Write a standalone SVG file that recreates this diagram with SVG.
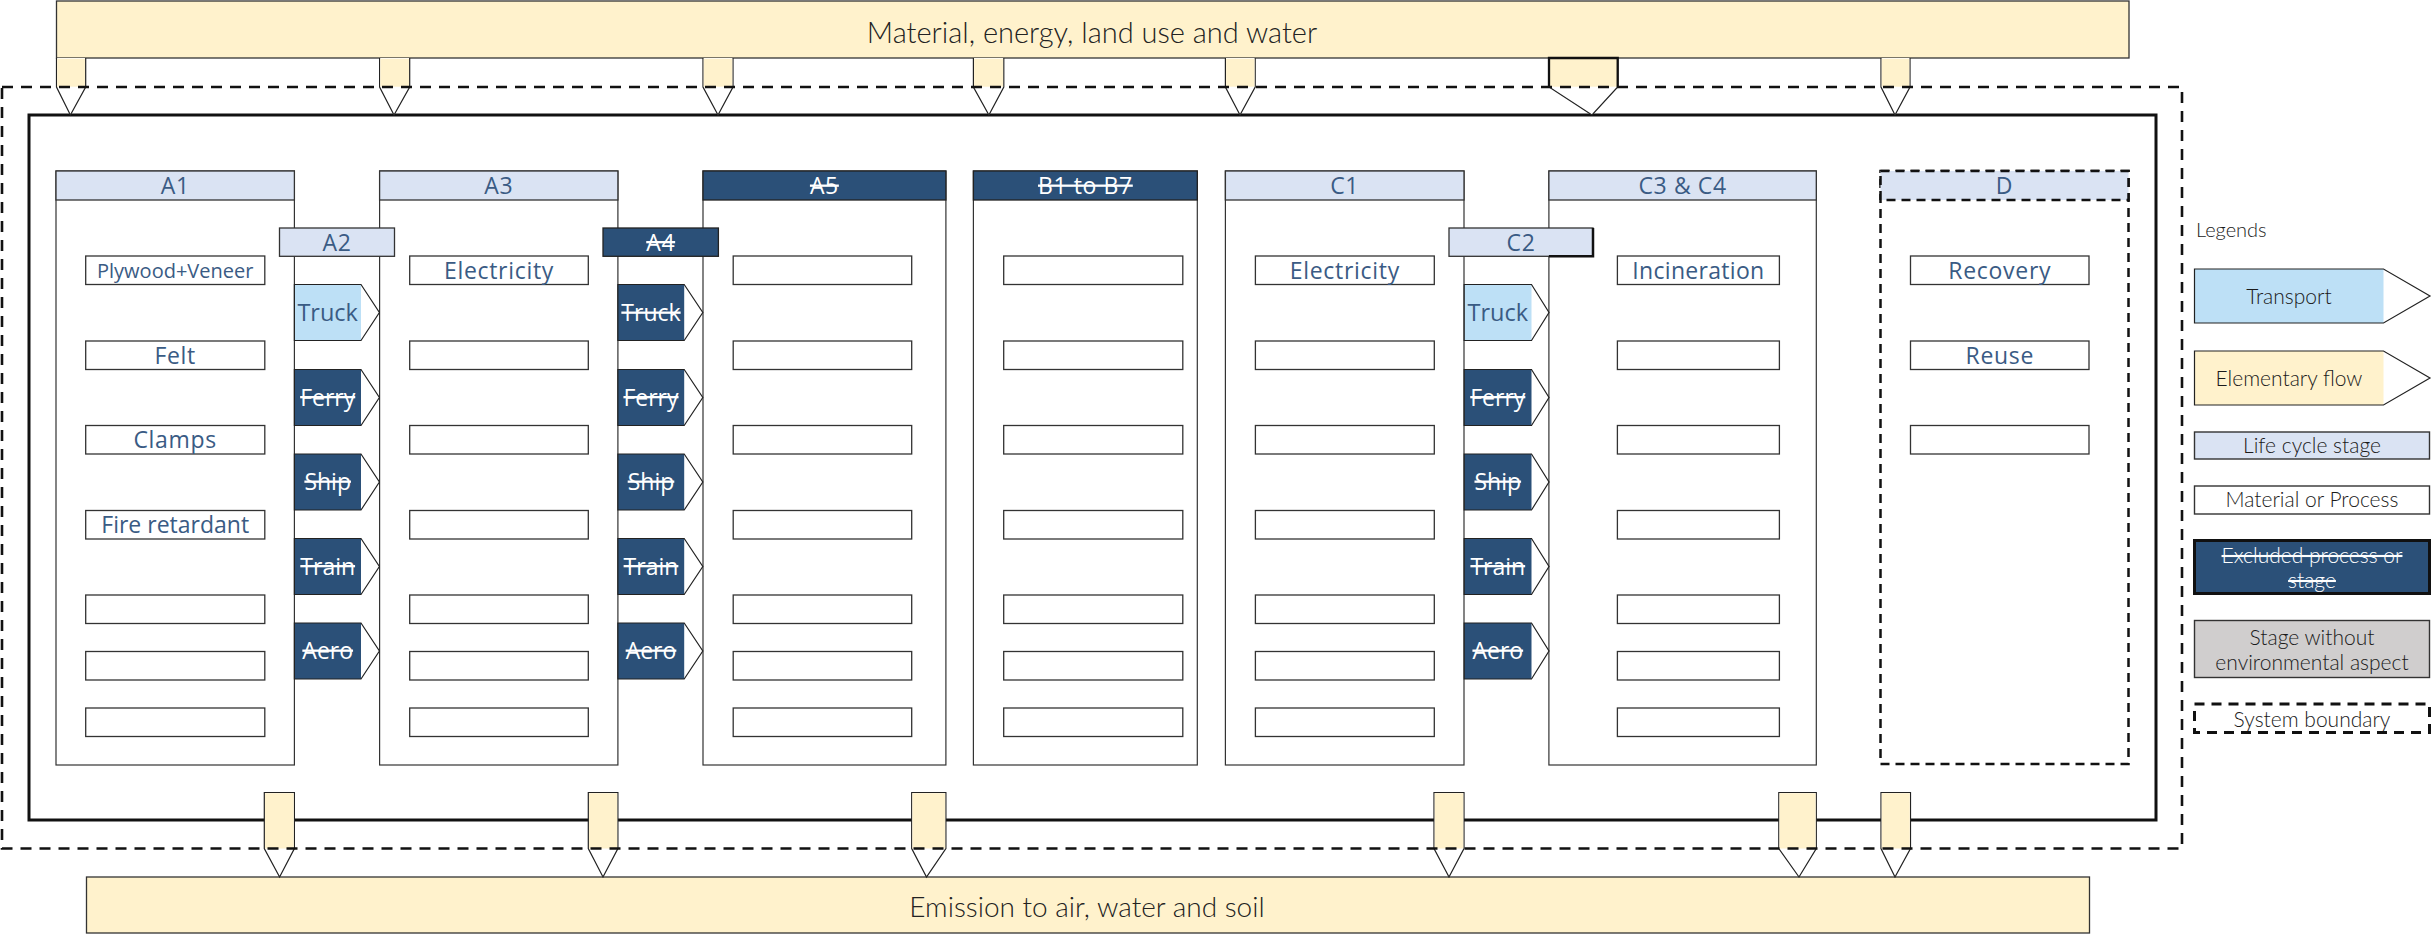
<svg xmlns="http://www.w3.org/2000/svg" width="2433" height="934" viewBox="0 0 2433 934">
<style>
.bg{fill:#ffffff}
.flowbar{fill:#FFF2CC;stroke:#333;stroke-width:1.3}
.bartxt{font-family:Lato,"Liberation Sans",sans-serif;font-weight:300;fill:#222;text-anchor:middle}
.col{fill:#ffffff;stroke:#333;stroke-width:1.2}
.hdr{fill:#DAE3F3;stroke:#333;stroke-width:1.3}
.hdrx{fill:#2B5078;stroke:#222;stroke-width:1.3}
.htxt{font-family:"Open Sans","Noto Sans",sans-serif;font-size:23px;letter-spacing:0.6px;fill:#3A5B84;text-anchor:middle}
.hx{font-family:"Open Sans","Noto Sans",sans-serif;font-size:23px;letter-spacing:0.6px;fill:#ffffff;text-anchor:middle;text-decoration:line-through}
.box{fill:#ffffff;stroke:#333;stroke-width:1.3}
.btxt{font-family:"Open Sans","Noto Sans",sans-serif;font-size:23px;letter-spacing:0.7px;fill:#3A5B84;text-anchor:middle}
.trk{fill:#BDE0F6}
.exc{fill:#2B5078}
.tip{fill:none;stroke:#222;stroke-width:1.2}
.ttxt{font-family:"Open Sans","Noto Sans",sans-serif;font-size:23.5px;fill:#3A5B84;text-anchor:middle}
.txx{font-family:"Open Sans","Noto Sans",sans-serif;font-size:23px;fill:#ffffff;text-anchor:middle;text-decoration:line-through}
.flow{fill:#ffffff;stroke:#222;stroke-width:1.2}
.flowfill{fill:#FFF2CC}
.ltxt{font-family:Lato,"Liberation Sans",sans-serif;font-size:21px;font-weight:300;fill:#1a1a1a;text-anchor:middle}
</style>
<rect class="bg" x="0" y="0" width="2433" height="934"/>

<!-- inner solid frame -->
<rect id="frame" x="29" y="115" width="2127" height="705" fill="none" stroke="#111" stroke-width="3"/>

<!-- Input bar -->
<g id="inputs">
<rect class="flowbar" x="56.5" y="1" width="2072.5" height="57"/>
<text class="bartxt" x="1092" y="42.5" font-size="29">Material, energy, land use and water</text>
</g>

<!-- Output bar -->
<g id="emissions">
<rect class="flowbar" x="86.5" y="877" width="2003" height="56"/>
<text class="bartxt" x="1087" y="916.5" font-size="28">Emission to air, water and soil</text>
</g>

<!-- Stage A1 -->
<g id="stage-A1">
<rect class="col" x="56" y="171" width="238.4" height="594"/>
<rect class="hdr" x="56" y="171" width="238.4" height="29"/>
<text class="htxt" x="175.2" y="194">A1</text>
<rect class="box" x="85.7" y="256" width="179.1" height="28.5"/>
<text class="btxt" x="175.2" y="277.5" style="font-size:20px;letter-spacing:0px">Plywood+Veneer</text>
<rect class="box" x="85.7" y="341" width="179.1" height="28.5"/>
<text class="btxt" x="175.2" y="363.5">Felt</text>
<rect class="box" x="85.7" y="425.5" width="179.1" height="28.5"/>
<text class="btxt" x="175.2" y="448">Clamps</text>
<rect class="box" x="85.7" y="510.5" width="179.1" height="28.5"/>
<text class="btxt" x="175.2" y="533" style="letter-spacing:0px">Fire retardant</text>
<rect class="box" x="85.7" y="595" width="179.1" height="28.5"/>
<rect class="box" x="85.7" y="651.5" width="179.1" height="28.5"/>
<rect class="box" x="85.7" y="708" width="179.1" height="28.5"/>
</g>

<!-- Stage A3 -->
<g id="stage-A3">
<rect class="col" x="379.6" y="171" width="238.3" height="594"/>
<rect class="hdr" x="379.6" y="171" width="238.3" height="29"/>
<text class="htxt" x="498.8" y="194">A3</text>
<rect class="box" x="409.7" y="256" width="178.6" height="28.5"/>
<text class="btxt" x="499" y="278.5">Electricity</text>
<rect class="box" x="409.7" y="341" width="178.6" height="28.5"/>
<rect class="box" x="409.7" y="425.5" width="178.6" height="28.5"/>
<rect class="box" x="409.7" y="510.5" width="178.6" height="28.5"/>
<rect class="box" x="409.7" y="595" width="178.6" height="28.5"/>
<rect class="box" x="409.7" y="651.5" width="178.6" height="28.5"/>
<rect class="box" x="409.7" y="708" width="178.6" height="28.5"/>
</g>

<!-- Stage A5 -->
<g id="stage-A5">
<rect class="col" x="703" y="171" width="242.9" height="594"/>
<rect class="hdrx" x="703" y="171" width="242.9" height="29"/>
<text class="hx" x="824.4" y="194">A5</text>
<rect class="box" x="733.2" y="256" width="178.5" height="28.5"/>
<rect class="box" x="733.2" y="341" width="178.5" height="28.5"/>
<rect class="box" x="733.2" y="425.5" width="178.5" height="28.5"/>
<rect class="box" x="733.2" y="510.5" width="178.5" height="28.5"/>
<rect class="box" x="733.2" y="595" width="178.5" height="28.5"/>
<rect class="box" x="733.2" y="651.5" width="178.5" height="28.5"/>
<rect class="box" x="733.2" y="708" width="178.5" height="28.5"/>
</g>

<!-- Stage B1 to B7 -->
<g id="stage-B">
<rect class="col" x="973.4" y="171" width="223.9" height="594"/>
<rect class="hdrx" x="973.4" y="171" width="223.9" height="29"/>
<text class="hx" x="1085.4" y="194">B1 to B7</text>
<rect class="box" x="1003.7" y="256" width="179.1" height="28.5"/>
<rect class="box" x="1003.7" y="341" width="179.1" height="28.5"/>
<rect class="box" x="1003.7" y="425.5" width="179.1" height="28.5"/>
<rect class="box" x="1003.7" y="510.5" width="179.1" height="28.5"/>
<rect class="box" x="1003.7" y="595" width="179.1" height="28.5"/>
<rect class="box" x="1003.7" y="651.5" width="179.1" height="28.5"/>
<rect class="box" x="1003.7" y="708" width="179.1" height="28.5"/>
</g>

<!-- Stage C1 -->
<g id="stage-C1">
<rect class="col" x="1225.4" y="171" width="238.6" height="594"/>
<rect class="hdr" x="1225.4" y="171" width="238.6" height="29"/>
<text class="htxt" x="1344.7" y="194">C1</text>
<rect class="box" x="1255.4" y="256" width="178.9" height="28.5"/>
<text class="btxt" x="1344.8" y="278.5">Electricity</text>
<rect class="box" x="1255.4" y="341" width="178.9" height="28.5"/>
<rect class="box" x="1255.4" y="425.5" width="178.9" height="28.5"/>
<rect class="box" x="1255.4" y="510.5" width="178.9" height="28.5"/>
<rect class="box" x="1255.4" y="595" width="178.9" height="28.5"/>
<rect class="box" x="1255.4" y="651.5" width="178.9" height="28.5"/>
<rect class="box" x="1255.4" y="708" width="178.9" height="28.5"/>
</g>

<!-- Stage C3 & C4 -->
<g id="stage-C3C4">
<rect class="col" x="1548.9" y="171" width="267.4" height="594"/>
<rect class="hdr" x="1548.9" y="171" width="267.4" height="29" stroke="#111" stroke-width="2.8"/>
<text class="htxt" x="1682.6" y="194">C3 &amp; C4</text>
<rect class="box" x="1617.4" y="256" width="162" height="28.5"/>
<text class="btxt" x="1698.4" y="278.5" style="letter-spacing:0.3px">Incineration</text>
<rect class="box" x="1617.4" y="341" width="162" height="28.5"/>
<rect class="box" x="1617.4" y="425.5" width="162" height="28.5"/>
<rect class="box" x="1617.4" y="510.5" width="162" height="28.5"/>
<rect class="box" x="1617.4" y="595" width="162" height="28.5"/>
<rect class="box" x="1617.4" y="651.5" width="162" height="28.5"/>
<rect class="box" x="1617.4" y="708" width="162" height="28.5"/>
</g>

<!-- Stage D -->
<g id="stage-D">
<rect x="1880.5" y="171" width="248" height="593" fill="#ffffff" stroke="#111" stroke-width="2.5" stroke-dasharray="9,6"/>
<rect x="1880.5" y="171" width="248" height="29" fill="#DAE3F3" stroke="#111" stroke-width="2.5" stroke-dasharray="9,6"/>
<text class="htxt" x="2004.5" y="194">D</text>
<rect class="box" x="1910.5" y="256" width="178.5" height="28.5"/>
<text class="btxt" x="1999.8" y="278.5">Recovery</text>
<rect class="box" x="1910.5" y="341" width="178.5" height="28.5"/>
<text class="btxt" x="1999.8" y="363.5">Reuse</text>
<rect class="box" x="1910.5" y="425.5" width="178.5" height="28.5"/>
</g>

<!-- Stage A2 (transport) -->
<g id="stage-A2">
<rect class="hdr" x="279.5" y="228" width="115" height="28.3"/>
<text class="htxt" x="337" y="250.5">A2</text>
<rect class="trk" x="294.4" y="284.5" width="66.6" height="56"/>
<polygon class="tip" points="294.4,284.5 361,284.5 379.4,312.5 361,340.5 294.4,340.5"/>
<text class="ttxt" x="327.7" y="321">Truck</text>
<rect class="exc" x="294.4" y="369.5" width="66.6" height="56"/>
<polygon class="tip" points="294.4,369.5 361,369.5 379.4,397.5 361,425.5 294.4,425.5"/>
<text class="txx" x="327.7" y="405.5">Ferry</text>
<rect class="exc" x="294.4" y="454" width="66.6" height="56"/>
<polygon class="tip" points="294.4,454 361,454 379.4,482 361,510 294.4,510"/>
<text class="txx" x="327.7" y="490">Ship</text>
<rect class="exc" x="294.4" y="538.5" width="66.6" height="56"/>
<polygon class="tip" points="294.4,538.5 361,538.5 379.4,566.5 361,594.5 294.4,594.5"/>
<text class="txx" x="327.7" y="574.5">Train</text>
<rect class="exc" x="294.4" y="623" width="66.6" height="56"/>
<polygon class="tip" points="294.4,623 361,623 379.4,651 361,679 294.4,679"/>
<text class="txx" x="327.7" y="659">Aero</text>
</g>

<!-- Stage A4 (transport, excluded) -->
<g id="stage-A4">
<rect class="hdrx" x="603" y="228" width="115.4" height="28.3"/>
<text class="hx" x="660.7" y="250.5">A4</text>
<rect class="exc" x="617.9" y="284.5" width="66.3" height="56"/>
<polygon class="tip" points="617.9,284.5 684.2,284.5 702.8,312.5 684.2,340.5 617.9,340.5"/>
<text class="txx" x="651" y="321">Truck</text>
<rect class="exc" x="617.9" y="369.5" width="66.3" height="56"/>
<polygon class="tip" points="617.9,369.5 684.2,369.5 702.8,397.5 684.2,425.5 617.9,425.5"/>
<text class="txx" x="651" y="405.5">Ferry</text>
<rect class="exc" x="617.9" y="454" width="66.3" height="56"/>
<polygon class="tip" points="617.9,454 684.2,454 702.8,482 684.2,510 617.9,510"/>
<text class="txx" x="651" y="490">Ship</text>
<rect class="exc" x="617.9" y="538.5" width="66.3" height="56"/>
<polygon class="tip" points="617.9,538.5 684.2,538.5 702.8,566.5 684.2,594.5 617.9,594.5"/>
<text class="txx" x="651" y="574.5">Train</text>
<rect class="exc" x="617.9" y="623" width="66.3" height="56"/>
<polygon class="tip" points="617.9,623 684.2,623 702.8,651 684.2,679 617.9,679"/>
<text class="txx" x="651" y="659">Aero</text>
</g>

<!-- Stage C2 (transport) -->
<g id="stage-C2">
<rect class="hdr" x="1449" y="228" width="144" height="28.3"/>
<path d="M1548.9,256.3 H1593 V228" fill="none" stroke="#111" stroke-width="2.5"/>
<text class="htxt" x="1521" y="250.5">C2</text>
<rect class="trk" x="1464.2" y="284.5" width="67.3" height="56"/>
<polygon class="tip" points="1464.2,284.5 1531.5,284.5 1549,312.5 1531.5,340.5 1464.2,340.5"/>
<text class="ttxt" x="1497.8" y="321">Truck</text>
<rect class="exc" x="1464.2" y="369.5" width="67.3" height="56"/>
<polygon class="tip" points="1464.2,369.5 1531.5,369.5 1549,397.5 1531.5,425.5 1464.2,425.5"/>
<text class="txx" x="1497.8" y="405.5">Ferry</text>
<rect class="exc" x="1464.2" y="454" width="67.3" height="56"/>
<polygon class="tip" points="1464.2,454 1531.5,454 1549,482 1531.5,510 1464.2,510"/>
<text class="txx" x="1497.8" y="490">Ship</text>
<rect class="exc" x="1464.2" y="538.5" width="67.3" height="56"/>
<polygon class="tip" points="1464.2,538.5 1531.5,538.5 1549,566.5 1531.5,594.5 1464.2,594.5"/>
<text class="txx" x="1497.8" y="574.5">Train</text>
<rect class="exc" x="1464.2" y="623" width="67.3" height="56"/>
<polygon class="tip" points="1464.2,623 1531.5,623 1549,651 1531.5,679 1464.2,679"/>
<text class="txx" x="1497.8" y="659">Aero</text>
</g>

<!-- Connectors: elementary flows -->
<g id="connectors">
<path class="flow" d="M56.5,58 V87 L70.4,115 L85.7,87 V58"/><rect class="flowfill" x="57.2" y="58.7" width="27.8" height="28"/>
<path class="flow" d="M379.6,58 V87 L394,115 L409.7,87 V58"/><rect class="flowfill" x="380.3" y="58.7" width="28.7" height="28"/>
<path class="flow" d="M703,58 V87 L718,115 L733,87 V58"/><rect class="flowfill" x="703.7" y="58.7" width="28.6" height="28"/>
<path class="flow" d="M973.4,58 V87 L988.9,115 L1003.8,87 V58"/><rect class="flowfill" x="974.1" y="58.7" width="29" height="28"/>
<path class="flow" d="M1225.4,58 V87 L1240,115 L1255.2,87 V58"/><rect class="flowfill" x="1226.1" y="58.7" width="28.4" height="28"/>
<path class="flow" d="M1549,58 V87 L1592,115 L1617.7,87 V58" stroke-width="1.3"/><rect class="flowfill" x="1549.7" y="58.7" width="67.3" height="28"/>
<path d="M1549,87 V58 H1617.7 V87" fill="none" stroke="#111" stroke-width="2.3"/>
<path class="flow" d="M1881,58 V87 L1895,115 L1910,87 V58"/><rect class="flowfill" x="1881.7" y="58.7" width="27.6" height="28"/>

<path class="flow" d="M264.3,792.5 V848.5 L279.6,877 L294.4,848.5 V792.5 Z"/><rect class="flowfill" x="265" y="793.2" width="28.7" height="55.3"/>
<path class="flow" d="M588.3,792.5 V848.5 L603,877 L617.9,848.5 V792.5 Z"/><rect class="flowfill" x="589" y="793.2" width="28.2" height="55.3"/>
<path class="flow" d="M911.7,792.5 V848.5 L926.5,877 L945.9,848.5 V792.5 Z"/><rect class="flowfill" x="912.4" y="793.2" width="32.8" height="55.3"/>
<path class="flow" d="M1434,792.5 V848.5 L1449,877 L1464,848.5 V792.5 Z"/><rect class="flowfill" x="1434.7" y="793.2" width="28.6" height="55.3"/>
<path class="flow" d="M1778.8,792.5 V848.5 L1799,877 L1816.3,848.5 V792.5 Z"/><rect class="flowfill" x="1779.5" y="793.2" width="36.1" height="55.3"/>
<path class="flow" d="M1881,792.5 V848.5 L1895,877 L1910.5,848.5 V792.5 Z"/><rect class="flowfill" x="1881.7" y="793.2" width="28.1" height="55.3"/>
</g>

<!-- System boundary (dashed) -->
<rect id="system-boundary" x="2" y="87" width="2180" height="761.5" fill="none" stroke="#111" stroke-width="2.6" stroke-dasharray="11,8"/>

<!-- Legend -->
<g id="legend">
<text x="2196" y="237" font-family="Lato, 'Liberation Sans', sans-serif" font-size="20" font-weight="300" fill="#1a1a1a">Legends</text>
<g id="legend-transport">
<rect class="trk" x="2194.5" y="269" width="189" height="54"/>
<polygon class="tip" points="2194.5,269 2383.5,269 2430,296 2383.5,323 2194.5,323" stroke-width="1.4"/>
<text class="ltxt" x="2289" y="304">Transport</text>
</g>
<g id="legend-elementary">
<rect class="flowfill" x="2194.5" y="351" width="189" height="54"/>
<polygon class="tip" points="2194.5,351 2383.5,351 2430,378 2383.5,405 2194.5,405" stroke-width="1.4"/>
<text class="ltxt" x="2289" y="386">Elementary flow</text>
</g>
<g id="legend-stage">
<rect x="2194.5" y="432" width="235" height="27" fill="#DAE3F3" stroke="#333" stroke-width="1.4"/>
<text class="ltxt" x="2312" y="453">Life cycle stage</text>
</g>
<g id="legend-material">
<rect x="2194.5" y="486" width="235" height="28" fill="#ffffff" stroke="#333" stroke-width="1.4"/>
<text class="ltxt" x="2312" y="507">Material or Process</text>
</g>
<g id="legend-excluded">
<rect x="2194.5" y="540.5" width="235" height="53" fill="#2B5078" stroke="#111" stroke-width="3"/>
<text class="ltxt" x="2312" y="563" style="fill:#ffffff;text-decoration:line-through">Excluded process or</text>
<text class="ltxt" x="2312" y="588" style="fill:#ffffff;text-decoration:line-through">stage</text>
</g>
<g id="legend-nostage">
<rect x="2194.5" y="620.5" width="235" height="57" fill="#D0CECE" stroke="#333" stroke-width="1.4"/>
<text class="ltxt" x="2312" y="645">Stage without</text>
<text class="ltxt" x="2312" y="670">environmental aspect</text>
</g>
<g id="legend-boundary">
<rect x="2194.5" y="704" width="235" height="28.5" fill="none" stroke="#111" stroke-width="3" stroke-dasharray="10,7"/>
<text class="ltxt" x="2312" y="726.5">System boundary</text>
</g>
</g>
</svg>
